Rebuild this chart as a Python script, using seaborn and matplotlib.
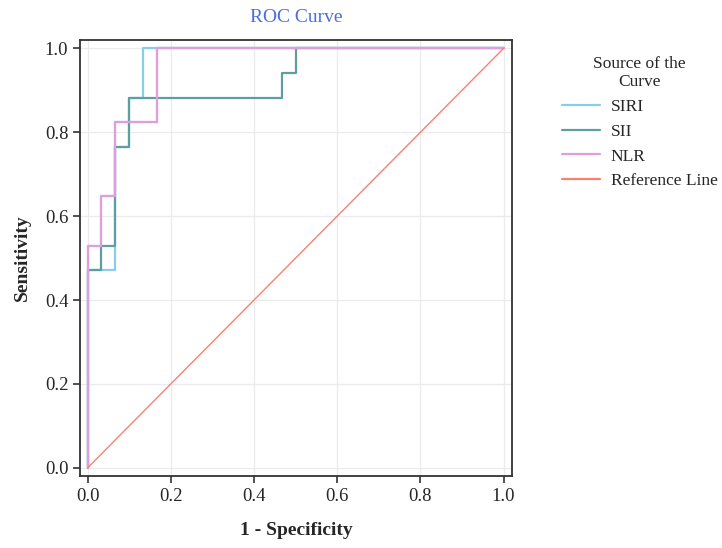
import pandas as pd
import seaborn as sns
import matplotlib.pyplot as plt

# ROC curve corner points (1 - specificity, sensitivity)
SIRI_FPR = [0.0, 0.0, 0.067, 0.067, 0.1, 0.1, 0.133, 0.133, 1.0]
SIRI_TPR = [0.0, 0.471, 0.471, 0.765, 0.765, 0.882, 0.882, 1.0, 1.0]

SII_FPR = [0.0, 0.0, 0.033, 0.033, 0.067, 0.067, 0.1, 0.1, 0.467, 0.467, 0.5, 0.5, 1.0]
SII_TPR = [0.0, 0.471, 0.471, 0.529, 0.529, 0.765, 0.765, 0.882, 0.882, 0.941, 0.941, 1.0, 1.0]

NLR_FPR = [0.0, 0.0, 0.033, 0.033, 0.067, 0.067, 0.167, 0.167, 1.0]
NLR_TPR = [0.0, 0.529, 0.529, 0.647, 0.647, 0.824, 0.824, 1.0, 1.0]

REF_FPR = [0.0, 1.0]
REF_TPR = [0.0, 1.0]

SOURCES = ["SIRI", "SII", "NLR", "Reference Line"]
COLORS = ["#87CEEB", "#5F9EA0", "#DDA0DD", "#FA8072"]
WIDTHS = [1.6, 1.6, 1.7, 1.0]


def build_frame():
    parts = []
    for name, fpr, tpr in zip(SOURCES,
                              [SIRI_FPR, SII_FPR, NLR_FPR, REF_FPR],
                              [SIRI_TPR, SII_TPR, NLR_TPR, REF_TPR]):
        parts.append(pd.DataFrame({"fpr": fpr, "tpr": tpr, "source": name}))
    return pd.concat(parts, ignore_index=True)


def main():
    sns.set_style("whitegrid")
    plt.rcParams["font.family"] = ["Liberation Serif", "DejaVu Serif"]

    df = build_frame()
    fig = plt.figure(figsize=(7.22, 5.48), dpi=100)
    ax = fig.add_axes([0.111, 0.131, 0.598, 0.796])

    sns.lineplot(data=df, x="fpr", y="tpr", hue="source", hue_order=SOURCES,
                 palette=COLORS, sort=False, estimator=None, units="source",
                 ax=ax, legend=True)
    for line, w in zip(ax.get_lines(), WIDTHS):
        line.set_linewidth(w)

    ax.set_xlim(-0.018, 1.02)
    ax.set_ylim(-0.02, 1.02)
    ticks = [0, 0.2, 0.4, 0.6, 0.8, 1.0]
    ax.set_xticks(ticks)
    ax.set_yticks(ticks)
    ax.set_xticklabels([f"{t:.1f}" for t in ticks])
    ax.set_yticklabels([f"{t:.1f}" for t in ticks])
    ax.tick_params(axis="both", labelsize=13.5, length=5, width=1.2,
                   color="#333333", direction="out", bottom=True, left=True)
    ax.grid(color="#ebebeb", linewidth=0.9)
    for s in ax.spines.values():
        s.set_color("#333333")
        s.set_linewidth(1.3)

    ax.set_xlabel("1 - Specificity", fontsize=14, fontweight="bold", labelpad=12)
    ax.set_ylabel("Sensitivity", fontsize=14, fontweight="bold", labelpad=10)
    ax.set_title("ROC Curve", fontsize=14, color="#4a6ee0", pad=13)

    handles, labels = ax.get_legend_handles_labels()
    for h in handles:
        h.set_linewidth(1.6)
    leg = ax.legend(handles, labels, title="Source of the\nCurve",
                    loc="upper left", bbox_to_anchor=(1.08, 1.0),
                    frameon=False, fontsize=12.5, title_fontsize=12.5,
                    handlelength=2.2, handletextpad=0.6, labelspacing=0.5)
    leg.get_title().set_multialignment("center")

    fig.savefig("out.png", dpi=100)
    plt.close(fig)


if __name__ == "__main__":
    main()
